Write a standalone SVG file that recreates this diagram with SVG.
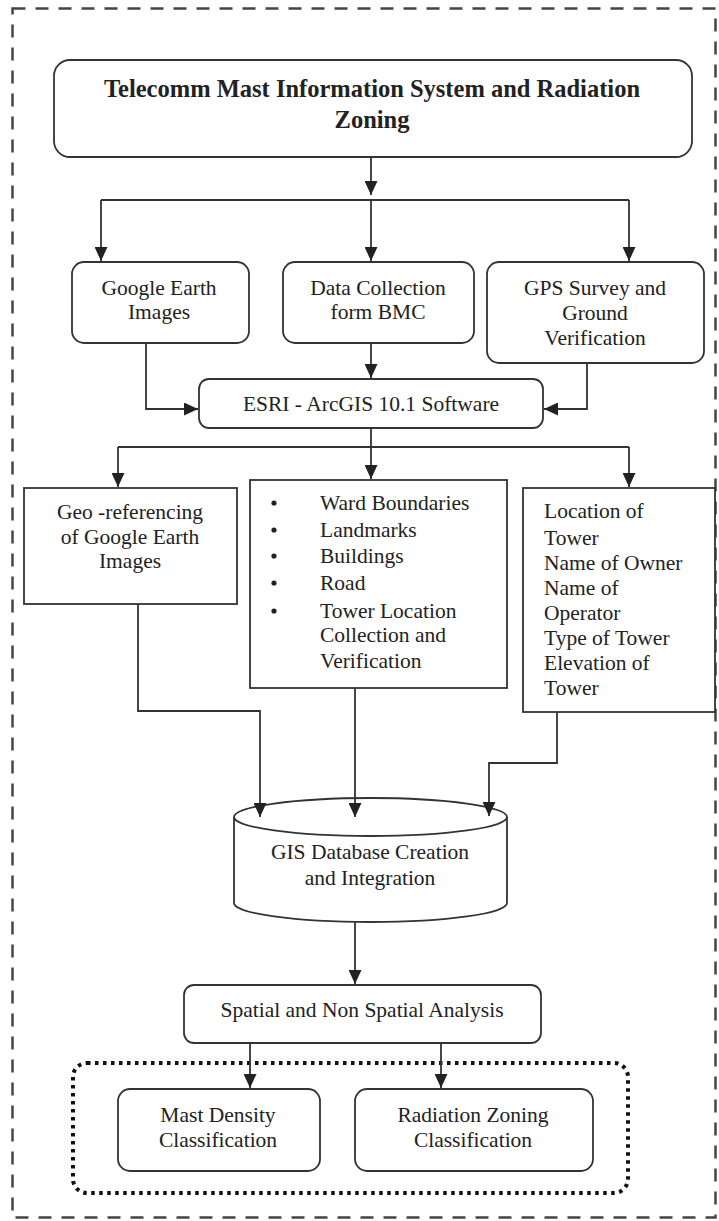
<svg xmlns="http://www.w3.org/2000/svg" width="719" height="1221" viewBox="0 0 719 1221">
<defs>
<marker id="arr" markerUnits="userSpaceOnUse" markerWidth="15" markerHeight="13" refX="14" refY="6.5" orient="auto">
<path d="M0,0 L14,6.5 L0,13 Z" fill="#222"/>
</marker>
<style>
.box{fill:#fff;stroke:#333;stroke-width:1.8}
.t{font-family:"Liberation Serif","Times New Roman",serif;font-size:21.5px;fill:#222}
.c{text-anchor:middle}
.title{font-weight:bold;font-size:24.5px}
.con{fill:none;stroke:#333;stroke-width:1.8}
.con path{marker-end:url(#arr)}
</style>
</defs>
<rect width="719" height="1221" fill="#fff"/>
<rect id="frame" x="12.5" y="8.5" width="703" height="1209" fill="none" stroke="#444" stroke-width="2.5" stroke-dasharray="13 10"/>

<g id="title">
<rect class="box" x="54" y="60" width="638" height="97" rx="16"/>
<text class="t c title" x="372" y="97">Telecomm Mast Information System and Radiation</text>
<text class="t c title" x="372" y="128">Zoning</text>
</g>

<g id="google">
<rect class="box" x="72" y="262" width="177" height="81" rx="12"/>
<text class="t c" x="159" y="295">Google Earth</text>
<text class="t c" x="159" y="319">Images</text>
</g>

<g id="data">
<rect class="box" x="283" y="262" width="191" height="81" rx="12"/>
<text class="t c" x="378" y="295">Data Collection</text>
<text class="t c" x="378" y="319">form BMC</text>
</g>

<g id="gps">
<rect class="box" x="487" y="262" width="217" height="101" rx="12"/>
<text class="t c" x="595" y="295">GPS Survey and</text>
<text class="t c" x="595" y="320">Ground</text>
<text class="t c" x="595" y="345">Verification</text>
</g>

<g id="esri">
<rect class="box" x="199" y="379" width="344" height="49" rx="10"/>
<text class="t c" x="371" y="411">ESRI - ArcGIS 10.1 Software</text>
</g>

<g id="geo">
<rect class="box" x="24" y="488" width="213" height="116"/>
<text class="t c" x="130" y="519">Geo -referencing</text>
<text class="t c" x="130" y="544">of Google Earth</text>
<text class="t c" x="130" y="568">Images</text>
</g>

<g id="layers">
<rect class="box" x="250" y="480" width="257" height="208"/>
<g fill="#222">
<circle cx="274" cy="503" r="2.6"/>
<circle cx="274" cy="530" r="2.6"/>
<circle cx="274" cy="556" r="2.6"/>
<circle cx="274" cy="583" r="2.6"/>
<circle cx="274" cy="611" r="2.6"/>
</g>
<text class="t" x="320" y="510">Ward Boundaries</text>
<text class="t" x="320" y="537">Landmarks</text>
<text class="t" x="320" y="563">Buildings</text>
<text class="t" x="320" y="590">Road</text>
<text class="t" x="320" y="618">Tower Location</text>
<text class="t" x="320" y="642">Collection and</text>
<text class="t" x="320" y="668">Verification</text>
</g>

<g id="attributes">
<rect class="box" x="523" y="488" width="192" height="224"/>
<text class="t" x="544" y="518">Location of</text>
<text class="t" x="544" y="545">Tower</text>
<text class="t" x="544" y="570">Name of Owner</text>
<text class="t" x="544" y="595">Name of</text>
<text class="t" x="544" y="620">Operator</text>
<text class="t" x="544" y="645">Type of Tower</text>
<text class="t" x="544" y="670">Elevation of</text>
<text class="t" x="544" y="695">Tower</text>
</g>

<g id="database">
<path class="box" d="M234,817 A136.5,19 0 0 1 507,817 V903 A136.5,19 0 0 1 234,903 Z"/>
<path fill="none" stroke="#333" stroke-width="1.8" d="M234,817 A136.5,19 0 0 0 507,817"/>
<text class="t c" x="370" y="859">GIS Database Creation</text>
<text class="t c" x="370" y="885">and Integration</text>
</g>

<g id="analysis">
<rect class="box" x="184" y="985" width="357" height="58" rx="10"/>
<text class="t c" x="362" y="1017">Spatial and Non Spatial Analysis</text>
</g>

<rect id="outputs" x="73" y="1063" width="555" height="130" rx="14" fill="none" stroke="#111" stroke-width="4" stroke-dasharray="3.5 4.5"/>

<g id="mast">
<rect class="box" x="118" y="1089" width="202" height="82" rx="12"/>
<text class="t c" x="218" y="1122">Mast Density</text>
<text class="t c" x="218" y="1147">Classification</text>
</g>

<g id="radiation">
<rect class="box" x="355" y="1089" width="238" height="82" rx="12"/>
<text class="t c" x="473" y="1122">Radiation Zoning</text>
<text class="t c" x="473" y="1147">Classification</text>
</g>

<g id="connectors" class="con">
<path d="M371,157 V195"/>
<line x1="101" y1="200" x2="629" y2="200"/>
<path d="M101,200 V261"/>
<path d="M371,200 V261"/>
<path d="M629,200 V261"/>
<path d="M146,343 V409 H198"/>
<path d="M371,343 V378"/>
<path d="M587,363 V409 H544"/>
<line x1="371" y1="428" x2="371" y2="447"/>
<line x1="118" y1="447" x2="629" y2="447"/>
<path d="M118,447 V487"/>
<path d="M371,447 V479"/>
<path d="M629,447 V487"/>
<path d="M138,604 V711 H260 V817"/>
<path d="M355,688 V817"/>
<path d="M557,712 V763 H489 V816"/>
<path d="M355,922 V984"/>
<path d="M250,1043 V1088"/>
<path d="M441,1043 V1088"/>
</g>
</svg>
